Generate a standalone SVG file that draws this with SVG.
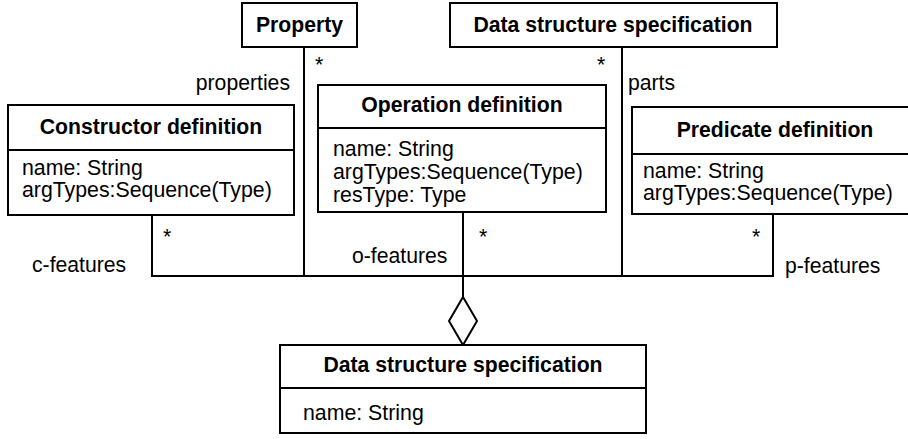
<svg xmlns="http://www.w3.org/2000/svg" width="908" height="439" viewBox="0 0 908 439">
<style>
  .box { fill: #ffffff; stroke: #000000; stroke-width: 2; }
  .div { stroke: #000000; stroke-width: 2; }
  .conn { fill: none; stroke: #000000; stroke-width: 2; }
  .title { font-family: "Liberation Sans", Arial, sans-serif; font-size: 21.2px; font-weight: bold; text-anchor: middle; fill: #000000; }
  .attr { font-family: "Liberation Sans", Arial, sans-serif; font-size: 21.3px; fill: #000000; }
  .lbl { font-family: "Liberation Sans", Arial, sans-serif; font-size: 21.2px; fill: #000000; }
</style>
<rect width="908" height="439" fill="#ffffff"/>
<g id="connectors">
  <path class="conn" d="M304,47 V276"/>
  <path class="conn" d="M622,47 V276"/>
  <path class="conn" d="M152,215 V276 H773 V214"/>
  <path class="conn" d="M463,212 V297"/>
  <polygon class="conn" points="463,297 477,321 463,345 449,321" style="fill:#ffffff"/>
  <text class="lbl" x="290" y="90" text-anchor="end">properties</text>
  <text class="lbl" x="315" y="72">*</text>
  <text class="lbl" x="597" y="72">*</text>
  <text class="lbl" x="628" y="90">parts</text>
  <text class="lbl" x="32" y="272">c-features</text>
  <text class="lbl" x="163" y="244">*</text>
  <text class="lbl" x="352" y="263">o-features</text>
  <text class="lbl" x="479" y="244">*</text>
  <text class="lbl" x="752" y="244">*</text>
  <text class="lbl" x="785" y="273">p-features</text>
</g>
<g id="property">
  <rect class="box" x="242" y="3" width="115" height="44"/>
  <text class="title" x="299.5" y="32">Property</text>
</g>
<g id="dss-top">
  <rect class="box" x="450" y="3" width="327" height="44"/>
  <text class="title" x="613" y="32">Data structure specification</text>
</g>
<g id="constructor">
  <rect class="box" x="8" y="105" width="286" height="110"/>
  <line class="div" x1="8" y1="150" x2="294" y2="150"/>
  <text class="title" x="151" y="134">Constructor definition</text>
  <text class="attr" x="22" y="175">name: String</text>
  <text class="attr" x="22" y="197">argTypes:Sequence(Type)</text>
</g>
<g id="operation">
  <rect class="box" x="318" y="85" width="288" height="127"/>
  <line class="div" x1="318" y1="128" x2="606" y2="128"/>
  <text class="title" x="462" y="112">Operation definition</text>
  <text class="attr" x="333" y="156">name: String</text>
  <text class="attr" x="333" y="179">argTypes:Sequence(Type)</text>
  <text class="attr" x="333" y="202">resType: Type</text>
</g>
<g id="predicate">
  <rect class="box" x="632" y="107" width="286" height="107"/>
  <line class="div" x1="632" y1="154" x2="918" y2="154"/>
  <text class="title" x="775" y="137">Predicate definition</text>
  <text class="attr" x="643" y="178">name: String</text>
  <text class="attr" x="643" y="200">argTypes:Sequence(Type)</text>
</g>
<g id="dss-bottom">
  <rect class="box" x="280" y="345" width="366" height="88"/>
  <line class="div" x1="280" y1="388" x2="646" y2="388"/>
  <text class="title" x="463" y="372">Data structure specification</text>
  <text class="attr" x="303" y="420">name: String</text>
</g>
</svg>
